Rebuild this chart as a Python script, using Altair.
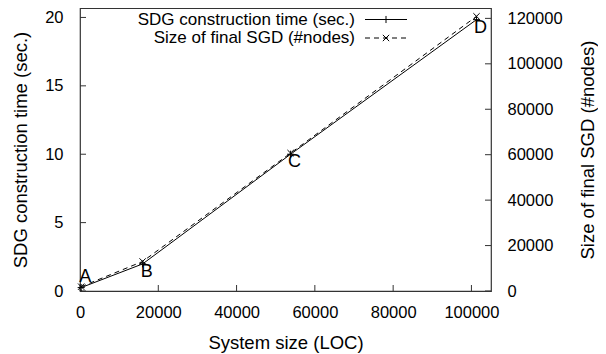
import altair as alt
import pandas as pd

# ---- data ----
loc = [300, 16000, 53800, 101300]
sec = [0.25, 1.98, 10.0, 19.84]
nodes = [1900, 13000, 60700, 120900]
point_labels = ["A", "B", "C", "D"]
x_ticks = [0, 20000, 40000, 60000, 80000, 100000]
y_ticks = [0, 5, 10, 15, 20]
y2_ticks = [0, 20000, 40000, 60000, 80000, 100000, 120000]
series_names = ["SDG construction time (sec.)", "Size of final SGD (#nodes)"]
x_title = "System size (LOC)"
y_title = "SDG construction time (sec.)"
y2_title = "Size of final SGD (#nodes)"

# ---- styling ----
W, H = 411, 283
FONT = "Liberation Sans"
INK = "#000000"
FRAME = "#333333"
PLUS = "M-1,0L1,0M0,-1L0,1"
CROSS = "M-1,-1L1,1M-1,1L1,-1"
TICK_LEN = 6
LEG_FS = 17

df = pd.DataFrame({"loc": loc, "sec": sec, "nodes": nodes, "label": point_labels})
xt = pd.DataFrame({"loc": x_ticks})
yt = pd.DataFrame({"sec": y_ticks})
y2t = pd.DataFrame({"nodes": y2_ticks})
leg1 = pd.DataFrame({"name": [series_names[0]]})
leg2 = pd.DataFrame({"name": [series_names[1]]})

xs = alt.Scale(domain=[0, 105000], nice=False, zero=False)
ys = alt.Scale(domain=[0, 20.69], nice=False)
y2s = alt.Scale(domain=[0, 124570], nice=False)

X = alt.X("loc:Q", scale=xs, axis=alt.Axis(
    values=x_ticks, format="d", title=x_title, labelPadding=26, labelFlush=False,
    labelBaseline="alphabetic", titleY=57, titleBaseline="alphabetic"))
Y1 = alt.Y("sec:Q", scale=ys, axis=alt.Axis(
    values=y_ticks, format="d", title=y_title, orient="left", labelPadding=17,
    labelFlush=False, titleX=-60, titleBaseline="middle", titleAngle=270))
Y2 = alt.Y("nodes:Q", scale=y2s, axis=alt.Axis(
    values=y2_ticks, format="d", title=y2_title, orient="right", labelPadding=16,
    labelFlush=False, titleX=96, titleBaseline="middle", titleAngle=270))

# ---- series 1 (left axis) ----
line1 = alt.Chart(df).mark_line(color=INK, strokeWidth=1).encode(x=X, y=Y1)
pts1 = alt.Chart(df).mark_point(shape=PLUS, size=50, filled=False, color=INK,
                                strokeWidth=1, opacity=1).encode(x=X, y=Y1)
labA = alt.Chart(df).transform_filter("datum.label == 'A'").mark_text(
    font=FONT, fontSize=18, color=INK, dx=4, dy=-11).encode(x=X, y=Y1, text="label:N")
labBCD = alt.Chart(df).transform_filter("datum.label != 'A'").mark_text(
    font=FONT, fontSize=18, color=INK, dx=4, dy=8).encode(x=X, y=Y1, text="label:N")
xticks = alt.Chart(xt).mark_rule(color=FRAME, strokeWidth=1).encode(
    x=X, y=alt.value(H), y2=alt.value(H - TICK_LEN))
yticks = alt.Chart(yt).mark_rule(color=FRAME, strokeWidth=1).encode(
    y=Y1, x=alt.value(0), x2=alt.value(TICK_LEN))
leg1_text = alt.Chart(leg1).mark_text(font=FONT, fontSize=LEG_FS, color=INK, align="right",
                                      baseline="middle").encode(
    x=alt.value(275), y=alt.value(11.5), text="name:N")
leg1_line = alt.Chart(leg1).mark_rule(color=INK, strokeWidth=1).encode(
    x=alt.value(285), x2=alt.value(327), y=alt.value(11.5))
leg1_pt = alt.Chart(leg1).mark_point(shape=PLUS, size=50, filled=False, color=INK,
                                     strokeWidth=1, opacity=1).encode(
    x=alt.value(306), y=alt.value(11.5))

series1 = alt.layer(xticks, yticks, line1, pts1, labA, labBCD, leg1_text, leg1_line, leg1_pt)

# ---- series 2 (right axis) ----
line2 = alt.Chart(df).mark_line(color=INK, strokeWidth=1, strokeDash=[5, 4]).encode(x=X, y=Y2)
pts2 = alt.Chart(df).mark_point(shape=CROSS, size=40, filled=False, color=INK,
                                strokeWidth=1, opacity=1).encode(x=X, y=Y2)
y2ticks = alt.Chart(y2t).mark_rule(color=FRAME, strokeWidth=1).encode(
    y=Y2, x=alt.value(W), x2=alt.value(W - TICK_LEN))
leg2_text = alt.Chart(leg2).mark_text(font=FONT, fontSize=LEG_FS, color=INK, align="right",
                                      baseline="middle").encode(
    x=alt.value(275), y=alt.value(30), text="name:N")
leg2_line = alt.Chart(leg2).mark_rule(color=INK, strokeWidth=1, strokeDash=[5, 4]).encode(
    x=alt.value(285), x2=alt.value(327), y=alt.value(30))
leg2_pt = alt.Chart(leg2).mark_point(shape=CROSS, size=40, filled=False, color=INK,
                                     strokeWidth=1, opacity=1).encode(
    x=alt.value(306), y=alt.value(30))

series2 = alt.layer(y2ticks, line2, pts2, leg2_text, leg2_line, leg2_pt)

chart = alt.layer(series1, series2).resolve_scale(y="independent").properties(
    width=W, height=H,
    autosize=alt.AutoSizeParams(type="none"),
    padding={"left": 72, "top": 0, "right": 107, "bottom": 63},
    background="white",
).configure_view(stroke=FRAME, strokeWidth=1.2).configure_axis(
    labelFont=FONT, labelFontSize=16.5, labelColor=INK,
    titleFont=FONT, titleFontSize=18.5, titleFontWeight="normal", titleColor=INK,
    ticks=False, tickSize=0, domain=False, grid=False,
)

chart.save("out.html", embed_options={"renderer": "svg", "actions": False})
